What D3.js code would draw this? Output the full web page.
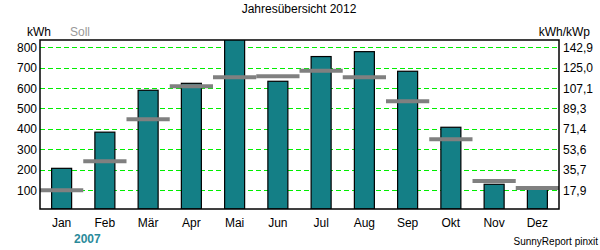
<!DOCTYPE html>
<html>
<head>
<meta charset="utf-8">
<script src="https://cdn.jsdelivr.net/npm/d3@7"></script>
<style>
  body { margin: 0; background: #fff; }
  text { font-family: "Liberation Sans", Arial, sans-serif; }
</style>
</head>
<body>
<div id="chart"></div>
<script>
// --- Daten ---
const months = ["Jan", "Feb", "Mär", "Apr", "Mai", "Jun", "Jul", "Aug", "Sep", "Okt", "Nov", "Dez"];
const ertrag = [207, 384, 589, 623, 870, 633, 754, 778, 682, 408, 129, 106];
const soll = [100, 242, 447, 609, 653, 658, 684, 653, 535, 349, 145, 111];
const leftTicks = [100, 200, 300, 400, 500, 600, 700, 800];
const rightTicks = [17.9, 35.7, 53.6, 71.4, 89.3, 107.1, 125.0, 142.9];
const kWp = 5.6;

const width = 600, height = 250;
const margin = { top: 40, right: 41, bottom: 41, left: 40 };
const x0 = margin.left, x1 = width - margin.right;
const y0 = margin.top, y1 = height - margin.bottom;

const svg = d3.select("#chart").append("svg")
  .attr("width", width)
  .attr("height", height);

const x = d3.scaleBand().domain(months).range([x0, x1]);
const y = d3.scaleLinear().domain([8, 835]).range([y1, y0]);
const y2 = d3.scaleLinear().domain([8 / kWp, 835 / kWp]).range([y1, y0]);

// Titel
svg.append("text")
  .attr("x", 299).attr("y", 13)
  .attr("text-anchor", "middle")
  .attr("font-size", "12px")
  .attr("fill", "#000")
  .text("Jahresübersicht 2012");

svg.append("text")
  .attr("x", 27).attr("y", 36)
  .attr("font-size", "12px")
  .text("kWh");

svg.append("text")
  .attr("x", 70).attr("y", 36)
  .attr("font-size", "12px")
  .attr("fill", "#999")
  .text("Soll");

svg.append("text")
  .attr("x", 590).attr("y", 36)
  .attr("text-anchor", "end")
  .attr("font-size", "12px")
  .text("kWh/kWp");

svg.append("defs").append("clipPath").attr("id", "plot")
  .append("rect").attr("x", x0).attr("y", y0).attr("width", x1 - x0).attr("height", y1 - y0);

// Gitterlinien
svg.append("g")
  .selectAll("line")
  .data(leftTicks)
  .join("line")
  .attr("x1", x0).attr("x2", x1)
  .attr("y1", d => Math.round(y(d)) + 0.5)
  .attr("y2", d => Math.round(y(d)) + 0.5)
  .attr("stroke", "#00ee00")
  .attr("stroke-width", 1)
  .attr("stroke-dasharray", "5,3");

// Balken
const barW = 20;
svg.append("g")
  .attr("clip-path", "url(#plot)")
  .selectAll("rect")
  .data(months)
  .join("rect")
  .attr("x", d => x(d) + x.bandwidth() / 2 - barW / 2)
  .attr("width", barW)
  .attr("y", (d, i) => y(ertrag[i]))
  .attr("height", (d, i) => y1 - y(ertrag[i]))
  .attr("fill", "#147f86")
  .attr("stroke", "#000")
  .attr("stroke-width", 1.2);

// Soll-Linien
svg.append("g")
  .selectAll("line")
  .data(months)
  .join("line")
  .attr("x1", d => x(d))
  .attr("x2", d => x(d) + x.bandwidth())
  .attr("y1", (d, i) => y(soll[i]))
  .attr("y2", (d, i) => y(soll[i]))
  .attr("stroke", "#808080")
  .attr("stroke-width", 4);

// Rahmen
svg.append("rect")
  .attr("x", x0).attr("y", y0)
  .attr("width", x1 - x0).attr("height", y1 - y0)
  .attr("fill", "none")
  .attr("stroke", "#000")
  .attr("stroke-width", 1.5);

// Achsen-Beschriftung links
svg.append("g")
  .selectAll("text")
  .data(leftTicks)
  .join("text")
  .attr("x", 37)
  .attr("y", d => y(d) + 4.5)
  .attr("text-anchor", "end")
  .attr("font-size", "12px")
  .text(d => d);

// rechts
const fmt = d3.formatLocale({ decimal: ",", thousands: ".", grouping: [3], currency: ["", "€"] }).format(".1f");
svg.append("g")
  .selectAll("text")
  .data(rightTicks)
  .join("text")
  .attr("x", 563)
  .attr("y", d => y2(d) + 4.5)
  .attr("font-size", "12px")
  .text(d => fmt(d));

// Monate
svg.append("g")
  .selectAll("text")
  .data(months)
  .join("text")
  .attr("x", d => x(d) + x.bandwidth() / 2)
  .attr("y", 227)
  .attr("text-anchor", "middle")
  .attr("font-size", "12px")
  .text(d => d);

svg.append("text")
  .attr("x", 74).attr("y", 243)
  .attr("font-size", "12px")
  .attr("font-weight", "bold")
  .attr("fill", "#2a8a9a")
  .text("2007");

svg.append("text")
  .attr("x", 598).attr("y", 245)
  .attr("text-anchor", "end")
  .attr("font-size", "10px")
  .text("SunnyReport pinxit");
</script>
</body>
</html>
